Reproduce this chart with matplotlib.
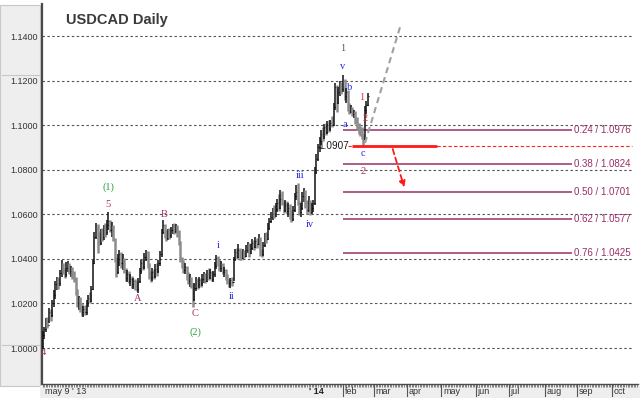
import matplotlib
matplotlib.use("Agg")
import matplotlib.pyplot as plt
import matplotlib.transforms as mtransforms
from matplotlib.patches import Rectangle
import pandas as pd

# daily bars, USDCAD, from 9 May 2013 (one value per trading day)
closes = [
    1.0060, 1.0085, 1.0120, 1.0105, 1.0160, 1.0150, 1.0200, 1.0240, 1.0285, 1.0300,
    1.0290, 1.0335, 1.0370, 1.0350, 1.0330, 1.0360, 1.0375, 1.0345, 1.0360, 1.0330,
    1.0310, 1.0255, 1.0200, 1.0215, 1.0180, 1.0160, 1.0175, 1.0160, 1.0200, 1.0225,
    1.0210, 1.0265, 1.0380, 1.0500, 1.0540, 1.0510, 1.0470, 1.0520, 1.0500, 1.0535,
    1.0520, 1.0550, 1.0570, 1.0530, 1.0545, 1.0490, 1.0400, 1.0340, 1.0400, 1.0420,
    1.0380, 1.0400, 1.0350, 1.0315, 1.0330, 1.0300, 1.0310, 1.0285, 1.0300, 1.0280,
    1.0265, 1.0300, 1.0345, 1.0380, 1.0365, 1.0410, 1.0430, 1.0370, 1.0330, 1.0320,
    1.0340, 1.0325, 1.0355, 1.0345, 1.0380, 1.0420, 1.0520, 1.0550, 1.0510, 1.0495,
    1.0520, 1.0505, 1.0530, 1.0540, 1.0525, 1.0545, 1.0520, 1.0470, 1.0400, 1.0380,
    1.0350, 1.0365, 1.0320, 1.0300, 1.0310, 1.0280, 1.0220, 1.0270, 1.0300, 1.0285,
    1.0305, 1.0290, 1.0310, 1.0325, 1.0300, 1.0330, 1.0320, 1.0340, 1.0310, 1.0330,
    1.0370, 1.0405, 1.0385, 1.0360, 1.0375, 1.0340, 1.0350, 1.0315, 1.0300, 1.0290,
    1.0305, 1.0295, 1.0400, 1.0430, 1.0410, 1.0440, 1.0420, 1.0405, 1.0430, 1.0415,
    1.0440, 1.0460, 1.0425, 1.0450, 1.0470, 1.0455, 1.0480, 1.0465, 1.0495, 1.0430,
    1.0420, 1.0460, 1.0500, 1.0490, 1.0540, 1.0570, 1.0590, 1.0610, 1.0600, 1.0625,
    1.0650, 1.0630, 1.0670, 1.0650, 1.0620, 1.0640, 1.0615, 1.0630, 1.0600, 1.0580,
    1.0620, 1.0680, 1.0700, 1.0650, 1.0610, 1.0630, 1.0680, 1.0700, 1.0650, 1.0620,
    1.0660, 1.0610, 1.0630, 1.0650, 1.0790, 1.0850, 1.0900, 1.0930, 1.0960, 1.0950,
    1.0990, 1.0970, 1.1000, 1.0985, 1.1010, 1.1000, 1.1080, 1.1170, 1.1100, 1.1150,
    1.1180, 1.1160, 1.1200, 1.1130, 1.1150, 1.1080, 1.1060, 1.1070, 1.1050, 1.1060,
    1.1020, 1.0990, 1.0985, 1.0980, 1.0950, 1.0940, 1.1070, 1.1090, 1.1130,
]
highs = [
    1.0075, 1.0095, 1.0133, 1.0140, 1.0180, 1.0175, 1.0215, 1.0260, 1.0300, 1.0318,
    1.0320, 1.0350, 1.0395, 1.0380, 1.0360, 1.0385, 1.0390, 1.0380, 1.0370, 1.0365,
    1.0345, 1.0320, 1.0265, 1.0235, 1.0230, 1.0200, 1.0190, 1.0195, 1.0215, 1.0240,
    1.0250, 1.0280, 1.0395, 1.0520, 1.0561, 1.0555, 1.0520, 1.0535, 1.0540, 1.0550,
    1.0560, 1.0575, 1.0610, 1.0575, 1.0565, 1.0550, 1.0495, 1.0410, 1.0420, 1.0440,
    1.0430, 1.0420, 1.0405, 1.0360, 1.0350, 1.0345, 1.0330, 1.0325, 1.0315, 1.0310,
    1.0300, 1.0315, 1.0360, 1.0395, 1.0400, 1.0425, 1.0440, 1.0435, 1.0380, 1.0345,
    1.0360, 1.0355, 1.0375, 1.0380, 1.0395, 1.0435, 1.0535, 1.0574, 1.0555, 1.0530,
    1.0535, 1.0540, 1.0545, 1.0556, 1.0560, 1.0558, 1.0550, 1.0530, 1.0480, 1.0410,
    1.0395, 1.0380, 1.0370, 1.0340, 1.0330, 1.0320, 1.0290, 1.0290, 1.0320, 1.0315,
    1.0320, 1.0315, 1.0330, 1.0340, 1.0335, 1.0350, 1.0360, 1.0355, 1.0345, 1.0345,
    1.0385, 1.0418, 1.0415, 1.0400, 1.0390, 1.0380, 1.0365, 1.0355, 1.0330, 1.0310,
    1.0315, 1.0320, 1.0410, 1.0445, 1.0450, 1.0465, 1.0450, 1.0440, 1.0445, 1.0440,
    1.0460, 1.0475, 1.0470, 1.0465, 1.0490, 1.0485, 1.0498, 1.0495, 1.0510, 1.0500,
    1.0445, 1.0475, 1.0515, 1.0520, 1.0560, 1.0585, 1.0610, 1.0630, 1.0640, 1.0650,
    1.0670, 1.0690, 1.0709, 1.0705, 1.0660, 1.0665, 1.0660, 1.0650, 1.0645, 1.0620,
    1.0635, 1.0695, 1.0730, 1.0740, 1.0660, 1.0650, 1.0700, 1.0720, 1.0710, 1.0665,
    1.0680, 1.0665, 1.0650, 1.0665, 1.0810, 1.0870, 1.0915, 1.0947, 1.0980, 1.0990,
    1.1005, 1.1010, 1.1020, 1.1023, 1.1025, 1.1040, 1.1100, 1.1189, 1.1180, 1.1170,
    1.1200, 1.1195, 1.1225, 1.1205, 1.1165, 1.1158, 1.1100, 1.1090, 1.1080, 1.1070,
    1.1065, 1.1035, 1.1010, 1.0995, 1.0990, 1.0960, 1.1085, 1.1110, 1.1145,
]
lows = [
    0.9995, 1.0040, 1.0070, 1.0090, 1.0110, 1.0120, 1.0140, 1.0185, 1.0220, 1.0260,
    1.0265, 1.0280, 1.0320, 1.0330, 1.0315, 1.0320, 1.0340, 1.0330, 1.0320, 1.0310,
    1.0295, 1.0240, 1.0185, 1.0170, 1.0160, 1.0145, 1.0139, 1.0150, 1.0150, 1.0185,
    1.0200, 1.0205, 1.0260, 1.0375, 1.0490, 1.0426, 1.0460, 1.0460, 1.0480, 1.0485,
    1.0500, 1.0505, 1.0530, 1.0520, 1.0500, 1.0480, 1.0385, 1.0320, 1.0330, 1.0370,
    1.0360, 1.0350, 1.0335, 1.0300, 1.0295, 1.0290, 1.0280, 1.0270, 1.0265, 1.0260,
    1.0255, 1.0247, 1.0290, 1.0330, 1.0350, 1.0355, 1.0390, 1.0360, 1.0310, 1.0295,
    1.0300, 1.0310, 1.0315, 1.0325, 1.0335, 1.0370, 1.0410, 1.0510, 1.0495, 1.0480,
    1.0485, 1.0490, 1.0495, 1.0510, 1.0510, 1.0515, 1.0500, 1.0460, 1.0385, 1.0360,
    1.0335, 1.0330, 1.0305, 1.0285, 1.0275, 1.0270, 1.0183, 1.0210, 1.0255, 1.0265,
    1.0270, 1.0275, 1.0280, 1.0290, 1.0290, 1.0295, 1.0305, 1.0310, 1.0300, 1.0295,
    1.0320, 1.0355, 1.0370, 1.0345, 1.0340, 1.0330, 1.0320, 1.0305, 1.0285, 1.0275,
    1.0270, 1.0280, 1.0300, 1.0390, 1.0400, 1.0405, 1.0395, 1.0395, 1.0400, 1.0405,
    1.0410, 1.0425, 1.0410, 1.0420, 1.0440, 1.0440, 1.0450, 1.0450, 1.0460, 1.0415,
    1.0408, 1.0415, 1.0455, 1.0470, 1.0485, 1.0530, 1.0560, 1.0575, 1.0585, 1.0590,
    1.0610, 1.0615, 1.0625, 1.0640, 1.0605, 1.0610, 1.0600, 1.0590, 1.0580, 1.0565,
    1.0570, 1.0610, 1.0665, 1.0640, 1.0595, 1.0590, 1.0620, 1.0655, 1.0630, 1.0600,
    1.0610, 1.0595, 1.0600, 1.0610, 1.0640, 1.0780, 1.0840, 1.0880, 1.0910, 1.0930,
    1.0940, 1.0955, 1.0960, 1.0970, 1.0975, 1.0990, 1.0995, 1.1070, 1.1060, 1.1095,
    1.1130, 1.1140, 1.1150, 1.1115, 1.1100, 1.1065, 1.1050, 1.1054, 1.1040, 1.1030,
    1.1005, 1.0980, 1.0960, 1.0950, 1.0940, 1.0907, 1.0935, 1.1050, 1.1085,
]
first_open = 1.0010

fib_ratios = ["0.24", "0.38", "0.50", "0.62", "0.76"]
fib_levels = [1.0976, 1.0824, 1.0701, 1.0577, 1.0425]
support_level = 1.0907

# wave labels: (bar index, price, text, colour key)
wave_labels = [
    (0.3, 0.9982, "4", "purple"),
    (41.7, 1.0723, "(1)", "green"),
    (41.7, 1.0642, "5", "purple"),
    (60.9, 1.0224, "A", "purple"),
    (77.5, 1.0601, "B", "purple"),
    (97.4, 1.0153, "C", "purple"),
    (97.4, 1.0072, "(2)", "green"),
    (112.1, 1.0458, "i", "blue"),
    (121.0, 1.0233, "ii", "blue"),
    (164.5, 1.0772, "iii", "blue"),
    (170.9, 1.0556, "iv", "blue"),
    (192.0, 1.1261, "v", "blue"),
    (192.0, 1.1346, "1", "dark"),
    (193.3, 1.1005, "a", "blue"),
    (196.5, 1.1167, "b", "blue"),
    (204.8, 1.0875, "c", "blue"),
    (204.8, 1.0794, "2", "purple"),
    (204.2, 1.1122, "1", "red"),
    (206.1, 1.1032, "2", "red"),
]
label_colors = {"purple": "#a8306c", "green": "#2e9e3e", "blue": "#2424e6",
                "dark": "#6e4a5e", "red": "#e8323c"}

# trading days for the time axis
days = pd.bdate_range("2013-05-09", "2014-10-31")
n_bars = len(closes)
opens = [first_open] + closes[:-1]

fig = plt.figure(figsize=(6.4, 3.98), dpi=100)
fig.patch.set_facecolor("white")

# grey side panel and bottom strip (behind the axes)
fig.patches.append(Rectangle((0, 12 / 398), 40 / 640, 381 / 398, transform=fig.transFigure,
                             facecolor="#eeeeee", edgecolor="#c8c8c8", lw=0.8, zorder=-5))
fig.patches.append(Rectangle((40 / 640, 0), 600 / 640, 12 / 398, transform=fig.transFigure,
                             facecolor="#eeeeee", edgecolor="none", zorder=-5))
for yy in [323 / 398, 53 / 398]:
    fig.lines.append(plt.Line2D([2 / 640, 40 / 640], [yy, yy], transform=fig.transFigure,
                                color="#c8c8c8", lw=0.8, zorder=-4))

ax = fig.add_axes([42 / 640, 14 / 398, 596 / 640, 380 / 398])
ax.set_facecolor("white")
x_max = 380.7
ax.set_xlim(-0.5, x_max)
ax.set_ylim(0.98385, 1.15436)

# grid
grid_levels = [1.00, 1.02, 1.04, 1.06, 1.08, 1.10, 1.12, 1.14]
ax.hlines(grid_levels, -0.5, 376.8, colors="#555555", lw=0.8,
          linestyles=(0, (2.2, 2.2)), zorder=1)

# bars
for i in range(n_bars):
    up = closes[i] >= opens[i]
    col = "#111111" if up else "#8c8c8c"
    lw = 1.1 if up else 1.8
    ax.vlines(i, lows[i], highs[i], colors=col, lw=lw, zorder=3)
    ax.hlines(opens[i], i - 0.7, i, colors=col, lw=0.8, zorder=3)
    ax.hlines(closes[i], i, i + 0.7, colors=col, lw=0.8, zorder=3)

# fibonacci levels
fib_color = "#9a2d66"
for r, lvl in zip(fib_ratios, fib_levels):
    ax.hlines(lvl, 192, 338.5, colors=fib_color, lw=1.1, zorder=2)
    ax.text(340, lvl, f"{r} / {lvl:.4f}", color=fib_color, fontsize=7,
            va="center", ha="left", family="Liberation Sans")

# support line
ax.hlines(support_level, 195, 376.8, colors="#ff2020", lw=0.8,
          linestyles=(0, (3, 2)), zorder=4)
ax.hlines(support_level, 197.8, 252, colors="#ff1a1a", lw=2.0, zorder=4)
ax.text(196, support_level, f"{support_level:.4f}", fontsize=7.2, color="#1a1a1a",
        ha="right", va="center", family="Liberation Sans", zorder=5)

# projection and target arrow
ax.plot([206.1, 228.5], [1.0920, 1.1440], color="#a0a0a0", lw=1.5,
        linestyle=(0, (3, 2)), zorder=4)
ax.annotate("", xy=(231.7, 1.0709), xytext=(223.3, 1.0905),
            arrowprops=dict(arrowstyle="-|>", color="#ff1a1a", lw=1.3,
                            linestyle=(0, (3, 2)), mutation_scale=9), zorder=5)

# wave labels
for x, y, t, c in wave_labels:
    ax.text(x, y, t, color=label_colors[c], fontsize=7.5, ha="center", va="center",
            family="Liberation Serif", zorder=6)

ax.text(0.04, 0.957, "USDCAD Daily", transform=ax.transAxes, fontsize=10.5,
        fontweight="bold", color="#3a3a3a", family="Liberation Sans", va="center")

# axes styling
for s in ["top", "right"]:
    ax.spines[s].set_visible(False)
ax.spines["left"].set_color("#4a4a4a")
ax.spines["left"].set_linewidth(1.6)
ax.spines["bottom"].set_color("#4a4a4a")
ax.spines["bottom"].set_linewidth(1.0)

ax.set_yticks(grid_levels)
ax.set_yticklabels([f"{v:.4f}" for v in grid_levels])
ax.tick_params(axis="y", length=0, pad=3, labelsize=6.5, labelcolor="#333333")
for lab in ax.get_yticklabels():
    lab.set_family("Liberation Sans")

# ruler ticks and month labels
ax.set_xticks([])
ax.set_xticks(range(0, 381), minor=True)
ax.tick_params(axis="x", which="minor", length=2.2, width=0.5, color="#555555",
               direction="out")

trans = mtransforms.blended_transform_factory(ax.transData, ax.transAxes)
month_idx = []
month_txt = []
for k in range(1, len(days)):
    if days[k].month != days[k - 1].month and days[k].year == 2014:
        month_idx.append(k)
        month_txt.append(days[k].strftime("%b").lower())
ax.text(1.5, -0.021, "may 9 ' 13", transform=trans, fontsize=6.5, color="#333333",
        ha="left", va="center", family="Liberation Sans")
for k, t in zip(month_idx, month_txt):
    if k > x_max:
        continue
    if t == "jan":
        ax.text(k + 1, -0.021, "' 14", transform=trans, fontsize=6.5, color="#222222",
                ha="left", va="center", fontweight="bold", family="Liberation Sans")
        continue
    ax.plot([k, k], [0, -0.032], transform=trans, color="#555555", lw=0.8, clip_on=False)
    ax.text(k + 1, -0.021, t, transform=trans, fontsize=6.5, color="#333333",
            ha="left", va="center", family="Liberation Sans")

fig.savefig("out.png", dpi=100)
